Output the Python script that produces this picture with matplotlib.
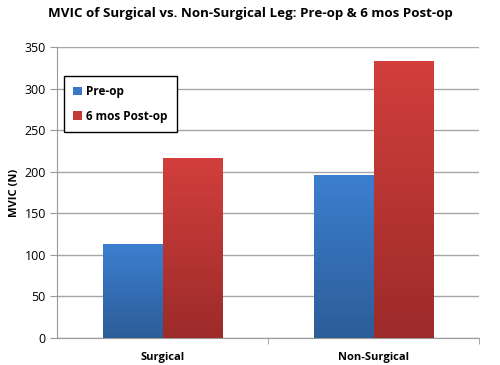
import numpy as np
import matplotlib.pyplot as plt
from matplotlib.colors import LinearSegmentedColormap
from matplotlib.patches import Patch

categories = ["Surgical", "Non-Surgical"]
series_names = ["Pre-op", "6 mos Post-op"]
pre_op = [113, 196]
post_op = [216, 333]

plt.rcParams['font.family'] = ['Open Sans', 'DejaVu Sans']

fig = plt.figure(figsize=(5, 3.65), dpi=100)
ax = fig.add_axes([57 / 500, 1 - 338 / 365, 422 / 500, 291 / 365])

grad_blue = LinearSegmentedColormap.from_list("b", ["#2c5d98", "#3c7fd0"])
grad_red = LinearSegmentedColormap.from_list("r", ["#9c2b2a", "#d23f3c"])

x = np.arange(len(categories))
w = 0.284
bars_pre = ax.bar(x - w / 2, pre_op, w, color="#3a78c4", zorder=2)
bars_post = ax.bar(x + w / 2, post_op, w, color="#c43a37", zorder=2)

# vertical gradient fill, clipped to each bar
grad = np.linspace(0, 1, 256).reshape(-1, 1)
for bars, cmap in [(bars_pre, grad_blue), (bars_post, grad_red)]:
    for b in bars:
        x0, y0 = b.get_x(), b.get_y()
        x1, y1 = x0 + b.get_width(), y0 + b.get_height()
        im = ax.imshow(grad, cmap=cmap, extent=[x0, x1, y0, y1], origin="lower",
                       aspect="auto", zorder=3)
        im.set_clip_path(b)

ax.set_xlim(-0.5, 1.5)
ax.set_ylim(0, 350)
ax.set_yticks(range(0, 351, 50))
ax.set_xticks(x)
ax.set_xticklabels(categories, fontweight="bold", fontsize=8)
ax.set_xticks([0.5, 1.5], minor=True)
ax.tick_params(axis="x", which="major", length=0, pad=10)
ax.tick_params(axis="x", which="minor", length=4, color="#999999")
ax.tick_params(axis="y", length=5, color="#999999", labelsize=9, pad=3)
ax.grid(axis="y", color="#a6a6a6", linewidth=1, zorder=0)
for s in ["top", "right"]:
    ax.spines[s].set_visible(False)
for s in ["left", "bottom"]:
    ax.spines[s].set_color("#999999")

ax.set_ylabel("MVIC (N)", fontweight="bold", fontsize=8, labelpad=3)
fig.suptitle("MVIC of Surgical vs. Non-Surgical Leg: Pre-op & 6 mos Post-op",
             fontweight="bold", fontsize=9.6, y=0.98)

handles = [Patch(facecolor="#3a78c4"), Patch(facecolor="#c43a37")]
leg = ax.legend(handles, series_names, loc="upper left",
                bbox_to_anchor=(7 / 422, 1 - 29 / 291),
                prop={"weight": "bold", "size": 8.5}, handlelength=0.7,
                handleheight=0.7, handletextpad=0.35, labelspacing=0.95,
                borderpad=0.8, fancybox=False, framealpha=1, borderaxespad=0)
leg.get_frame().set_edgecolor("black")
leg.get_frame().set_linewidth(1)

plt.savefig("out.png", dpi=100)
